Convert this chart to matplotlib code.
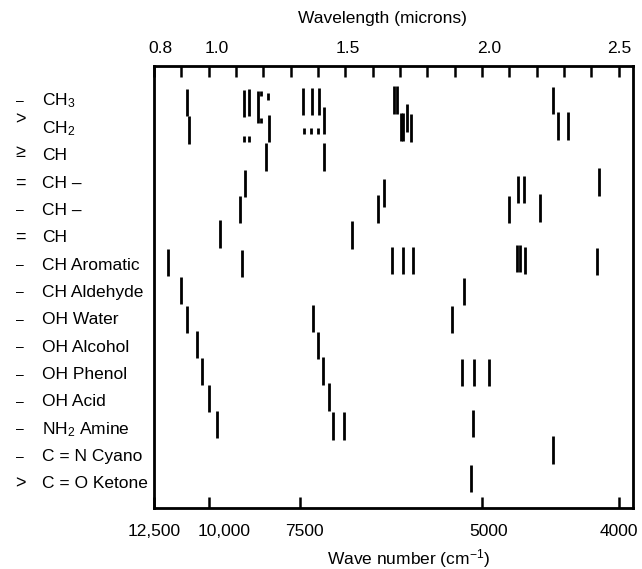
import numpy as np
import matplotlib
matplotlib.use("Agg")
from matplotlib import pyplot as plt
from matplotlib import transforms

plt.rcParams["font.family"] = ["Liberation Sans", "DejaVu Sans"]
plt.rcParams["mathtext.fontset"] = "custom"
plt.rcParams["mathtext.rm"] = "Liberation Sans"
plt.rcParams["mathtext.it"] = "Liberation Sans:italic"
plt.rcParams["mathtext.bf"] = "Liberation Sans:bold"

# bond symbol and group name for every row, top to bottom
bond_marks = ["–", ">", "≥", "=", "–", "=", "–", "–", "–", "–", "–", "–", "–", "–", ">"]
group_names = ["CH$_3$", "CH$_2$", "CH", "CH –", "CH –", "CH", "CH Aromatic",
               "CH Aldehyde", "OH Water", "OH Alcohol", "OH Phenol", "OH Acid",
               "NH$_2$ Amine", "C = N Cyano", "C = O Ketone"]

# absorption bands: wavelength (microns), row centre, bar length (rows)
band_um = [
    # CH3
    0.920, 1.131, 1.149, 1.182, 1.192, 1.192, 1.218, 1.346, 1.379, 1.404, 1.422,
    1.680, 1.689, 2.259,
    # CH2
    0.929, 1.129, 1.149, 1.221, 1.349, 1.375, 1.400, 1.704, 1.711, 1.727, 1.742,
    2.278, 2.315,
    # CH
    1.209, 1.422,
    # =CH-
    1.133, 1.642, 2.133, 2.154, 2.430,
    # -CH-
    1.115, 1.620, 2.101, 2.213,
    # =CH
    1.042, 1.526,
    # aromatic
    0.852, 1.121, 1.672, 1.712, 1.749, 2.129, 2.140, 2.159, 2.423,
    # aldehyde
    0.899, 1.934,
    # water
    0.920, 1.383, 1.890,
    # alcohol
    0.958, 1.401,
    # phenol
    0.977, 1.420, 1.928, 1.971, 2.027,
    # acid
    1.002, 1.441,
    # amine
    1.032, 1.454, 1.497, 1.969,
    # cyano
    2.259,
    # ketone
    1.959,
]
band_row = [
    0.05, 0.08, 0.05, 0.22, -0.29, 0.71, -0.17, 0.02, 0.02, 0.02, 0.71,
    -0.04, -0.04, -0.02,
    1.06, 1.38, 1.38, 1.00, 1.10, 1.10, 1.10, 0.95, 0.95, 0.62, 0.99,
    0.91, 0.91,
    2.05, 2.05,
    3.02, 3.36, 3.23, 3.23, 2.96,
    3.97, 3.95, 3.97, 3.91,
    4.86, 4.90,
    5.90, 5.94, 5.83, 5.83, 5.83, 5.76, 5.76, 5.83, 5.86,
    6.93, 6.96,
    7.98, 7.95, 7.98,
    8.90, 8.95,
    9.88, 9.87, 9.92, 9.92, 9.92,
    10.88, 10.82,
    11.82, 11.88, 11.88, 11.79,
    12.76,
    13.80,
]
band_len = [
    1.0, 1.0, 1.0, 1.19, 0.18, 0.18, 0.27, 1.0, 1.0, 1.0, 1.0,
    1.02, 1.02, 1.0,
    1.0, 0.21, 0.21, 1.0, 0.21, 0.21, 0.21, 1.03, 1.03, 1.03, 1.0,
    1.0, 1.0,
] + [1.0] * 42

wavelength_ticks = [0.8, 1.0, 1.5, 2.0, 2.5]
wavelength_minor = [0.9, 1.1, 1.2, 1.3, 1.4, 1.6, 1.7, 1.8, 1.9, 2.1, 2.2, 2.3, 2.4]
wavenumber_ticks = [12500, 10000, 7500, 5000, 4000]
wavenumber_labels = ["12,500", "10,000", "7500", "5000", "4000"]

band_um = np.array(band_um)
band_row = np.array(band_row)
band_len = np.array(band_len)

# small layout nudges (pixels / rows) so labels sit like in the printed figure
top_nudge = [6, 8, 3, 7, 1]
bottom_nudge = [0, 15, 4.5, 7, 0]
mark_shift = [0, -0.3, -0.12, 0, 0, 0, 0, 0, 0, 0, 0, 0, 0, 0, 0]

fig = plt.figure(figsize=(6.42, 5.69), dpi=100)
ax = fig.add_axes([154 / 642, 61 / 569, 479 / 642, 442 / 569])

ax.vlines(band_um, band_row - band_len / 2, band_row + band_len / 2,
          color="black", lw=2.0)

ax.set_xlim(0.8, 2.553)
ax.set_ylim(14.88, -1.28)
ax.set_yticks([])
ax.set_xticks([1e4 / w for w in wavenumber_ticks], wavenumber_labels)
ax.tick_params(axis="x", direction="in", length=8, width=1.8, pad=11.5, labelsize=12.5)
for s in ax.spines.values():
    s.set_linewidth(2)

top = ax.twiny()
top.set_xlim(ax.get_xlim())
top.set_xticks(wavelength_ticks, [f"{w:.1f}" for w in wavelength_ticks])
top.set_xticks(wavelength_minor, minor=True)
top.tick_params(which="both", direction="in", length=8, width=1.8, pad=7, labelsize=12.5)

for lab, dx in zip(top.get_xticklabels(), top_nudge):
    lab.set_transform(lab.get_transform() + transforms.ScaledTranslation(dx / 100, 0, fig.dpi_scale_trans))
for lab, dx in zip(ax.get_xticklabels(), bottom_nudge):
    lab.set_transform(lab.get_transform() + transforms.ScaledTranslation(dx / 100, 0, fig.dpi_scale_trans))

# row labels to the left of the box
trans = transforms.blended_transform_factory(fig.transFigure, ax.transData)
for i in range(len(group_names)):
    size = 10 if bond_marks[i] == "–" else 13
    ax.text(20 / 642, i + mark_shift[i], bond_marks[i], transform=trans,
            ha="center", va="center", fontsize=size)
    ax.text(42 / 642, i, group_names[i], transform=trans, ha="left", va="center",
            fontsize=12.5)

fig.text(382 / 642, 1 - 19 / 569, "Wavelength (microns)", ha="center", va="center",
         fontsize=12.5)
fig.text(409 / 642, 1 - 559 / 569, "Wave number (cm$^{-1}$)", ha="center", va="center",
         fontsize=12.5)

plt.savefig("out.png", dpi=100)
